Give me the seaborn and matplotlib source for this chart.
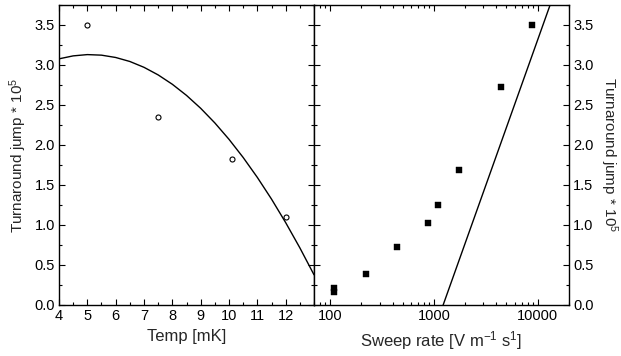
import matplotlib
matplotlib.use("Agg")
import matplotlib.pyplot as plt
import matplotlib.ticker as mticker
import seaborn as sns
import pandas as pd

# Data
temp = [5.0, 7.5, 10.1, 12.0]
temp_jump = [3.50, 2.35, 1.82, 1.10]

fit_temp = [4.0, 4.5, 5.0, 5.5, 6.0, 6.5, 7.0, 7.5, 8.0, 8.5, 9.0, 9.5,
            10.0, 10.5, 11.0, 11.5, 12.0, 12.5, 13.0]
fit_temp_jump = [3.077, 3.114, 3.130, 3.123, 3.094, 3.044, 2.971, 2.876,
                 2.759, 2.620, 2.459, 2.276, 2.071, 1.844, 1.595, 1.324,
                 1.030, 0.715, 0.378]

sweep = [110, 110, 220, 440, 880, 1100, 1760, 4400, 8800]
sweep_jump = [0.21, 0.16, 0.39, 0.72, 1.03, 1.25, 1.69, 2.73, 3.50]

fit_sweep = [1227, 13150]
fit_sweep_jump = [0.0, 3.75]

ylabel = r'Turnaround jump * 10$^{5}$'

sns.set_theme(style="ticks")
plt.rcParams['font.family'] = ['Liberation Sans', 'DejaVu Sans']
plt.rcParams['mathtext.default'] = 'regular'
plt.rcParams['mathtext.fontset'] = 'custom'
plt.rcParams['mathtext.rm'] = 'Liberation Sans'

fig = plt.figure(figsize=(6.21, 3.56), dpi=100)
x0, x1, x2 = 59 / 621, 314 / 621, 569 / 621
yb, yt = 1 - 305 / 356, 1 - 5 / 356
ax1 = fig.add_axes([x0, yb, x1 - x0, yt - yb])
ax2 = fig.add_axes([x1, yb, x2 - x1, yt - yb])

df1 = pd.DataFrame({'t': temp, 'j': temp_jump})
df1f = pd.DataFrame({'t': fit_temp, 'j': fit_temp_jump})
sns.lineplot(data=df1f, x='t', y='j', ax=ax1, color='black', lw=1.0, sort=False)
sns.scatterplot(data=df1, x='t', y='j', ax=ax1, marker='o', s=13,
                facecolor='white', edgecolor='black', linewidth=0.8, zorder=3)

df2 = pd.DataFrame({'s': sweep, 'j': sweep_jump})
df2f = pd.DataFrame({'s': fit_sweep, 'j': fit_sweep_jump})
sns.lineplot(data=df2f, x='s', y='j', ax=ax2, color='black', lw=1.0, sort=False)
sns.scatterplot(data=df2, x='s', y='j', ax=ax2, marker='s', s=15,
                color='black', edgecolor='black', linewidth=0.3, zorder=3)

for ax in (ax1, ax2):
    ax.set_ylim(0, 3.75)
    ax.yaxis.set_major_locator(mticker.MultipleLocator(0.5))
    ax.yaxis.set_minor_locator(mticker.MultipleLocator(0.25))
    ax.yaxis.set_major_formatter(mticker.FormatStrFormatter('%.1f'))
    ax.tick_params(which='both', direction='in', top=True, right=True,
                   left=True, bottom=True, labelsize=10.5, colors='black', pad=3)
    ax.tick_params(which='major', length=4, width=0.8)
    ax.tick_params(which='minor', length=2.5, width=0.8)
    for sp in ax.spines.values():
        sp.set_visible(True)
        sp.set_linewidth(1.0)
        sp.set_color('black')

ax1.set_xlim(4, 13)
ax1.set_xticks([4, 5, 6, 7, 8, 9, 10, 11, 12])
ax1.xaxis.set_minor_locator(mticker.MultipleLocator(0.5))
ax1.set_xlabel('Temp [mK]', fontsize=12)
ax1.set_ylabel(ylabel, fontsize=11, labelpad=4)

ax2.set_xscale('log')
ax2.set_xlim(70, 20000)
ax2.xaxis.set_major_locator(mticker.FixedLocator([100, 1000, 10000]))
ax2.xaxis.set_major_formatter(mticker.FixedFormatter(['100', '1000', '10000']))
ax2.xaxis.set_minor_locator(mticker.LogLocator(base=10, subs=range(2, 10)))
ax2.xaxis.set_minor_formatter(mticker.NullFormatter())
ax2.set_xlabel(r'Sweep rate [V m$^{-1}$ s$^{1}$]', fontsize=12)
ax2.yaxis.tick_right()
ax2.tick_params(which='both', left=True, labelleft=False, labelright=True)
ax2.yaxis.set_label_position('right')
ax2.set_ylabel(ylabel, fontsize=11, rotation=270, va='bottom', labelpad=3)

fig.savefig('out.png', dpi=100)
